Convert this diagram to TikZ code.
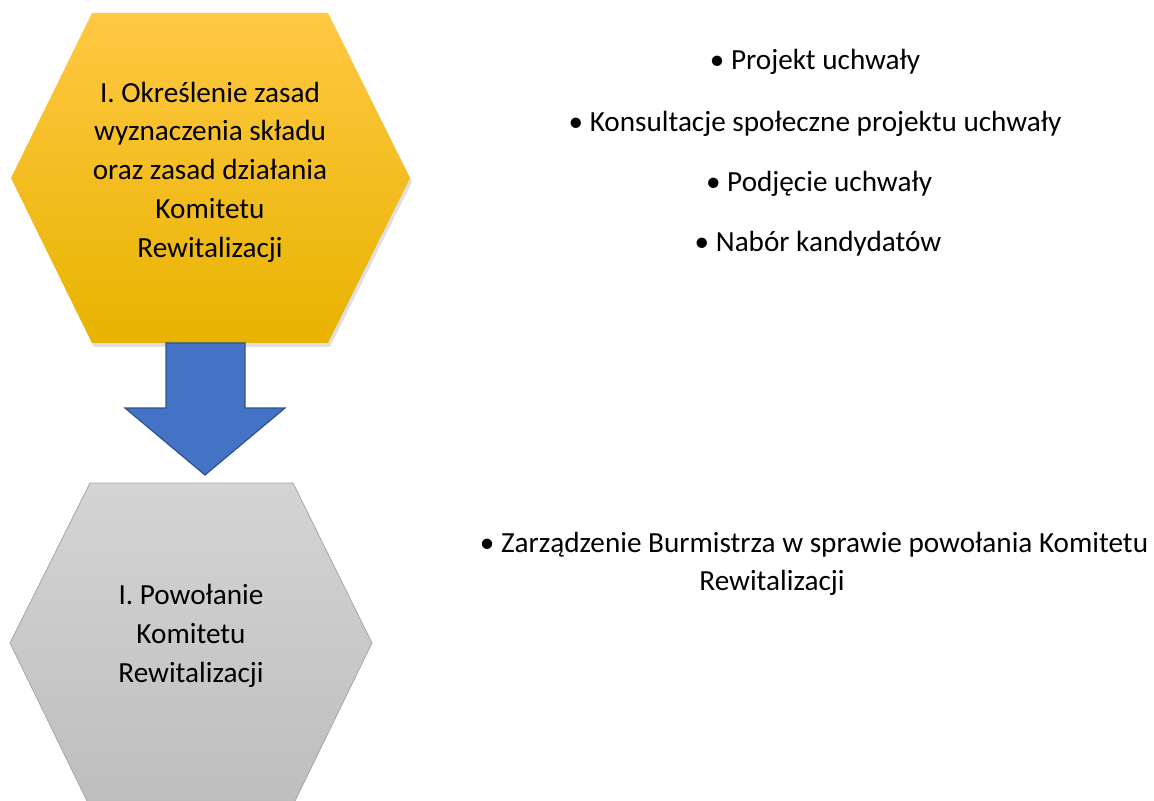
\documentclass[tikz,border=0pt]{standalone}
\usepackage{fontspec}
\setmainfont{Carlito}
\usetikzlibrary{shadows}

\begin{document}
\begin{tikzpicture}[
            x=0.5pt, y=-0.5pt,
            hexgold/.style={draw=none, top color=goldtop, middle color=goldmid, bottom color=goldbot,
                drop shadow={shadow xshift=1pt, shadow yshift=-2pt, opacity=0.25}},
            hexgray/.style={draw=grayedge, line width=0.4pt, top color=graytop, bottom color=graybot},
            blockarrow/.style={draw=arrowedge, line width=0.6pt, fill=arrowfill},
            hextext/.style={align=center, font=\fontsize{14.6}{19.4}\selectfont},
            item/.style={anchor=base, inner sep=0pt, font=\fontsize{14.6}{19.4}\selectfont}
            ]
            \definecolor{goldtop}{HTML}{FFC843}
            \definecolor{goldmid}{HTML}{FFC000}
            \definecolor{goldbot}{HTML}{E8B300}
            \definecolor{graytop}{HTML}{D4D4D4}
            \definecolor{graybot}{HTML}{BEBEBE}
            \definecolor{grayedge}{HTML}{A5A5A5}
            \definecolor{arrowfill}{HTML}{4472C4}
            \definecolor{arrowedge}{HTML}{2F528F}
            \useasboundingbox (0,0) rectangle (1154,801);
            \begin{scope}
                \clip (0,0) rectangle (1154,801);
                \path[hexgold] (92,13) -- (328,13) -- (410,178) -- (328,343) -- (92,343) -- (11,178) -- cycle;
                \path[hexgray] (90,483) -- (293,483) -- (372,643) -- (294,803) -- (88,803) -- (10,643) -- cycle;
            \end{scope}
            \node[hextext] (okr) at (210,172) {I. Określenie zasad\\wyznaczenia składu\\oraz zasad działania\\Komitetu\\Rewitalizacji};
            \node[hextext] (pow) at (191,636) {I. Powołanie\\Komitetu\\Rewitalizacji};
            \coordinate (a1) at (166,343);
            \coordinate (a2) at (245,343);
            \coordinate (tip) at (205,475);
            \draw[blockarrow] (a1) -- (a2) -- (245,408) -- (285,408) -- (tip) -- (125,408) -- (166,408) -- cycle;
            \node[item] (proj) at (815,70) {• Projekt uchwały};
            \node[item] (kons) at (815,132) {• Konsultacje społeczne projektu uchwały};
            \node[item] (podj) at (819,192) {• Podjęcie uchwały};
            \node[item] (nab) at (818,252) {• Nabór kandydatów};
            \node[item] (zarz) at (814,552) {• Zarządzenie Burmistrza w sprawie powołania Komitetu};
            \node[item] (rew) at (772,590) {Rewitalizacji};
        \end{tikzpicture}
\end{document}
